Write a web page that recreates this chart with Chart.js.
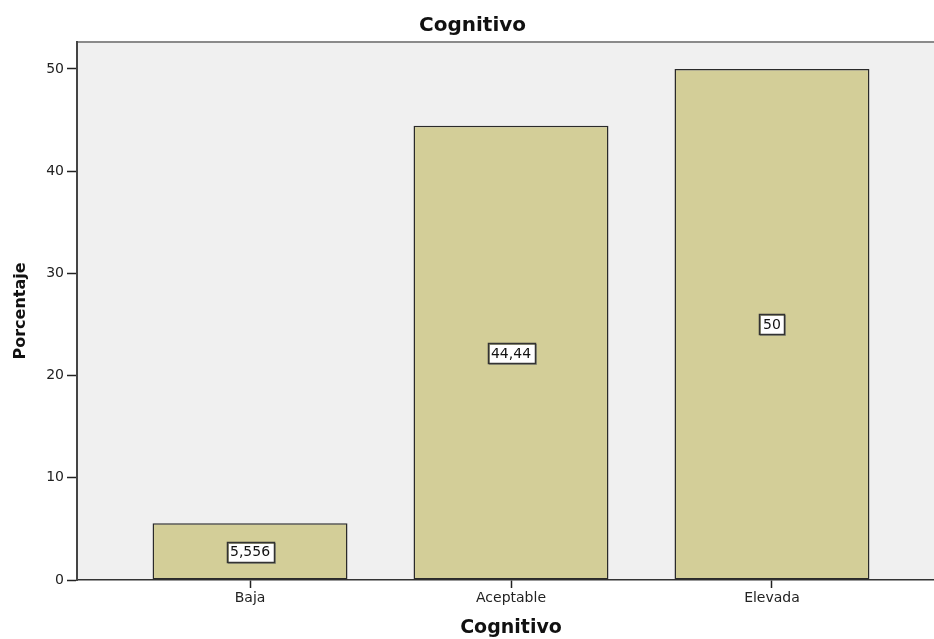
<!DOCTYPE html>
<html>
<head>
<meta charset="utf-8">
<script src="https://cdn.jsdelivr.net/npm/chart.js@4.4.1/dist/chart.umd.min.js"></script>
<style>
html,body{margin:0;padding:0;background:#fff;overflow:hidden;}
#wrap{width:948px;height:639px;position:relative;}
</style>
</head>
<body>
<div id="wrap"><canvas id="c"></canvas></div>
<script>
const categories = ["Baja", "Aceptable", "Elevada"];
const values = [5.556, 44.44, 50];
const yTicks = [0, 10, 20, 30, 40, 50];
const chartTitle = "Cognitivo";
const xTitle = "Cognitivo";
const yTitle = "Porcentaje";

const FONT = "'DejaVu Sans', Verdana, sans-serif";

const bgPlugin = {
  id: 'bg',
  beforeDraw(chart) {
    const {ctx, chartArea: a} = chart;
    ctx.save();
    ctx.fillStyle = '#f0f0f0';
    ctx.fillRect(a.left, a.top, a.right - a.left, a.bottom - a.top);
    ctx.strokeStyle = '#8a8a8a';
    ctx.lineWidth = 2;
    ctx.beginPath();
    ctx.moveTo(a.left, a.top);
    ctx.lineTo(chart.width, a.top);
    ctx.stroke();
    ctx.restore();
  }
};

const labelPlugin = {
  id: 'vlabels',
  afterDatasetsDraw(chart) {
    const {ctx} = chart;
    const meta = chart.getDatasetMeta(0);
    const ys = chart.scales.y;
    ctx.save();
    ctx.font = "14px " + FONT;
    ctx.textAlign = 'center';
    ctx.textBaseline = 'middle';
    meta.data.forEach((bar, i) => {
      const v = values[i];
      const txt = String(v).replace('.', ',');
      const x = bar.x;
      const y = ys.getPixelForValue(v / 2);
      const w = Math.round(ctx.measureText(txt).width + 7);
      const h = 20;
      const lx = Math.round(x - w / 2) + 0.5, ly = Math.round(y - h / 2) + 0.5;
      ctx.fillStyle = '#ffffff';
      ctx.fillRect(lx, ly, w, h);
      ctx.strokeStyle = '#9a9a80';
      ctx.lineWidth = 1;
      ctx.strokeRect(lx + 1, ly + 1, w, h);
      ctx.strokeStyle = '#333333';
      ctx.lineWidth = 1.5;
      ctx.strokeRect(lx, ly, w, h);
      ctx.fillStyle = '#111111';
      ctx.fillText(txt, x, y + 1);
    });
    ctx.restore();
  }
};

new Chart(document.getElementById('c'), {
  type: 'bar',
  data: {
    datasets: [{
      data: values.map((v, i) => ({x: i, y: v})),
      backgroundColor: '#d3ce98',
      borderColor: '#2a2a2a',
      borderWidth: 1.5,
      borderSkipped: false,
      categoryPercentage: 1,
      barPercentage: 0.747
    }]
  },
  plugins: [bgPlugin, labelPlugin],
  options: {
    responsive: true,
    maintainAspectRatio: false,
    animation: false,
    layout: {padding: {left: 0, right: 3, top: 0, bottom: 0}},
    plugins: {
      legend: {display: false},
      tooltip: {enabled: false},
      title: {
        display: true,
        text: chartTitle,
        color: '#111',
        font: {family: FONT, size: 20, weight: 'bold', lineHeight: 1},
        padding: {top: 16, bottom: 6}
      }
    },
    scales: {
      x: {
        type: 'linear',
        min: -0.663,
        max: 2.663,
        offset: false,
        afterBuildTicks(scale) { scale.ticks = categories.map((c, i) => ({value: i})); },
        afterFit(scale) { scale.height = 59; },
        ticks: {
          callback: (v) => categories[v] ?? '',
          color: '#222',
          font: {family: FONT, size: 14},
          padding: 2,
          maxRotation: 0
        },
        grid: {drawOnChartArea: false, offset: false, tickLength: 8, color: '#222', tickWidth: 1.5},
        border: {display: true, color: '#333', width: 1.5},
        title: {
          display: true,
          text: xTitle,
          color: '#111',
          font: {family: FONT, size: 19, weight: 'bold', lineHeight: 1},
          padding: {top: 2, bottom: 1}
        }
      },
      y: {
        min: 0,
        max: 52.64,
        afterBuildTicks(scale) { scale.ticks = yTicks.map(v => ({value: v})); },
        afterFit(scale) { scale.width = 77; },
        ticks: {
          color: '#222',
          font: {family: FONT, size: 14},
          padding: 3
        },
        grid: {drawOnChartArea: false, tickLength: 10, color: '#222', tickWidth: 1.5},
        border: {display: true, color: '#444', width: 2},
        title: {
          display: true,
          text: yTitle,
          color: '#111',
          font: {family: FONT, size: 16, weight: 'bold'},
          padding: {top: 11, bottom: 0}
        }
      }
    }
  }
});
</script>
</body>
</html>
